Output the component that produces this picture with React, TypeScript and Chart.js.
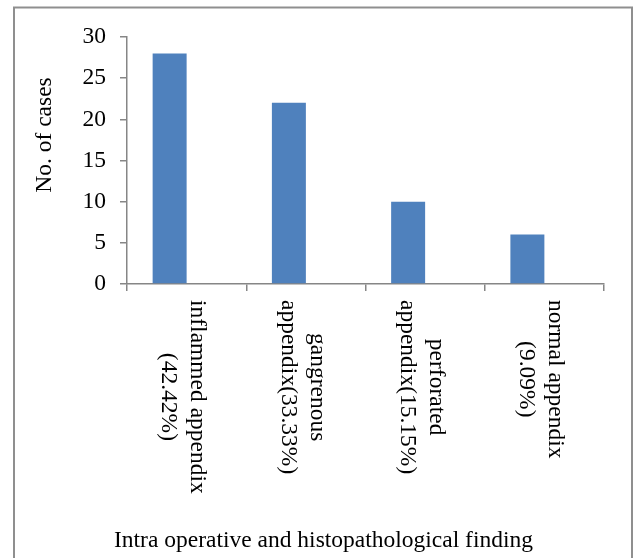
import React, { useEffect, useRef } from "react";
import { Chart, registerables } from "chart.js";

Chart.register(...registerables);

const categories: string[][] = [
  ["inflammed appendix", "(42.42%)"],
  ["gangrenous", "appendix(33.33%)"],
  ["perforated", "appendix(15.15%)"],
  ["normal appendix", "(9.09%)"],
];
const cases: number[] = [28, 22, 10, 6];
const emptySeries: (number | null)[] = [null, null, null, null];
const yMin = 0;
const yMax = 30;
const yStep = 5;
const yTitle = "No. of cases";
const xTitle = "Intra operative and histopathological finding";

const FONT = "'Liberation Serif', 'Times New Roman', serif";
const FS = 23.5;
const AXIS = "#868686";

const textPlugin = {
  id: "customText",
  afterDraw(chart: any) {
    const ctx = chart.ctx as CanvasRenderingContext2D;
    const xs = chart.scales.x;
    ctx.save();
    // outer frame
    ctx.strokeStyle = "#8f8f8f";
    ctx.lineWidth = 2;
    ctx.strokeRect(14, 7.5, 618, 620);

    ctx.fillStyle = "#000";
    ctx.font = `${FS}px ${FONT}`;

    // rotated category labels (clockwise)
    const lineH = 29;
    const top = 300;
    categories.forEach((lines, i) => {
      const cx = xs.getPixelForValue(i) - 3.5;
      const maxW = Math.max(...lines.map((l) => ctx.measureText(l).width));
      ctx.save();
      ctx.translate(cx, top);
      ctx.rotate(Math.PI / 2);
      ctx.textAlign = "center";
      ctx.textBaseline = "middle";
      lines.forEach((l, j) => {
        ctx.fillText(l, maxW / 2, (j - (lines.length - 1) / 2) * lineH);
      });
      ctx.restore();
    });

    // y title
    ctx.save();
    ctx.translate(45, 135);
    ctx.rotate(-Math.PI / 2);
    ctx.textAlign = "center";
    ctx.textBaseline = "middle";
    ctx.fillText(yTitle, 0, 0);
    ctx.restore();

    // x title
    ctx.textAlign = "center";
    ctx.textBaseline = "alphabetic";
    ctx.fillText(xTitle, 323.5, 547);
    ctx.restore();
  },
};

export default function App() {
  const ref = useRef<HTMLCanvasElement>(null);
  useEffect(() => {
    document.body.style.margin = "0";
    const canvas = ref.current!;
    const chart = new Chart(canvas, {
      type: "bar",
      data: {
        labels: categories.map((c) => c.join(" ")),
        datasets: [
          {
            data: cases,
            backgroundColor: "#4F81BD",
            categoryPercentage: 0.57,
            barPercentage: 1,
          },
          {
            data: emptySeries as any,
            backgroundColor: "#C0504D",
            categoryPercentage: 0.57,
            barPercentage: 1,
          },
        ],
      },
      options: {
        responsive: false,
        animation: false,
        devicePixelRatio: 1,
        layout: { padding: { top: 37, right: 29, left: 0, bottom: 0 } },
        plugins: {
          legend: { display: false },
          tooltip: { enabled: false },
          title: { display: false },
        },
        scales: {
          x: {
            type: "category",
            offset: true,
            grid: {
              display: true,
              drawOnChartArea: false,
              drawTicks: true,
              tickLength: 7,
              color: AXIS,
              lineWidth: 1.5,
              offset: true,
            },
            border: { display: true, color: AXIS, width: 1.5 },
            ticks: { display: false },
            afterFit: (s: any) => {
              s.height = 558 - 284;
            },
          },
          y: {
            min: yMin,
            max: yMax,
            ticks: {
              stepSize: yStep,
              color: "#000",
              padding: 14,
              font: { family: FONT, size: FS },
            },
            grid: {
              display: true,
              drawOnChartArea: false,
              drawTicks: true,
              tickLength: 7,
              color: AXIS,
              lineWidth: 1.5,
            },
            border: { display: true, color: AXIS, width: 1.5 },
            afterFit: (s: any) => {
              s.width = 127;
            },
          },
        },
      },
      plugins: [textPlugin],
    });
    return () => chart.destroy();
  }, []);
  return (
    <canvas
      ref={ref}
      width={633}
      height={558}
      style={{ display: "block", width: 633, height: 558 }}
    />
  );
}
